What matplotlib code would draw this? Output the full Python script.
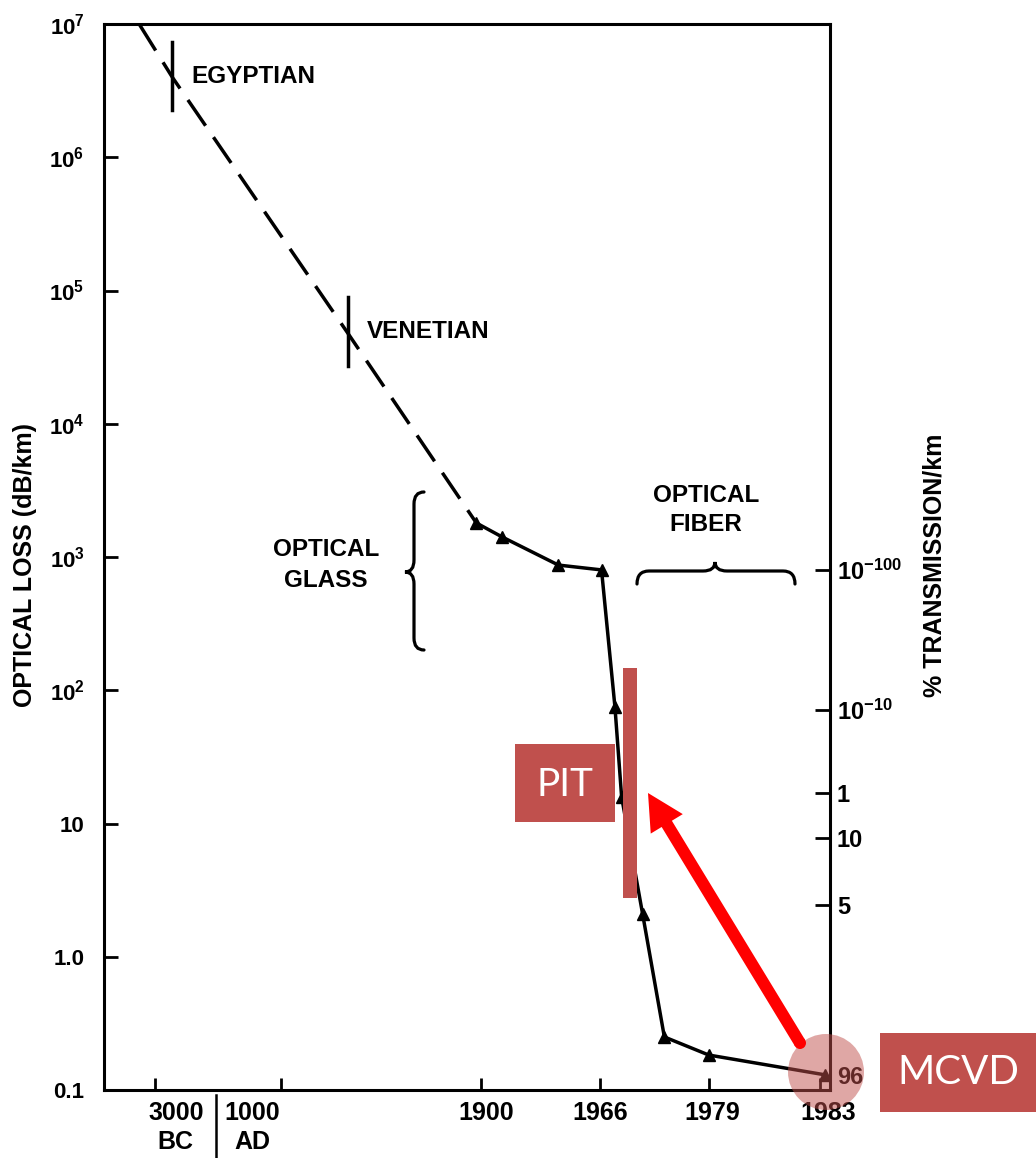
import numpy as np
import matplotlib
matplotlib.use('Agg')
import matplotlib.pyplot as plt
from matplotlib.path import Path
from matplotlib.patches import PathPatch, Rectangle, Ellipse, FancyArrowPatch
from matplotlib.lines import Line2D
from matplotlib.transforms import ScaledTranslation

plt.rcParams['font.family'] = ['Liberation Sans', 'DejaVu Sans']
plt.rcParams['font.weight'] = 'bold'
plt.rcParams['mathtext.fontset'] = 'custom'
plt.rcParams['mathtext.rm'] = 'Liberation Sans:bold'
plt.rcParams['mathtext.it'] = 'Liberation Sans:bold'
plt.rcParams['mathtext.bf'] = 'Liberation Sans:bold'
plt.rcParams['mathtext.default'] = 'rm'

W, H = 1036, 1158

# x axis: hand drawn, uneven time axis (negative year = BC)
tick_years = [-3000, 1000, 1900, 1966, 1979, 1983]
tick_labels = ['3000', '1000', '1900', '1966', '1979', '1983']
tick_frac = [0.070, 0.244, 0.519, 0.683, 0.833, 0.986]
x_edges = (-4620, 1983.4)

# early glass, extrapolated (dashed)
early_years = [-3500, -2450, 1300, 1880]
early_loss = [1e7, 4.0e6, 4.8e4, 1800]

# measured points (solid, triangles)
fiber_years = [1880, 1912, 1943, 1966.2, 1967.8, 1968.6, 1971.1, 1973.7, 1979, 1983.2]
fiber_loss = [1800, 1410, 870, 800, 75, 15.8, 2.1, 0.25, 0.183, 0.13]

# historical glass marks
mark_years = [-2450, 1300]
mark_lo = [2.27e6, 2.7e4]
mark_hi = [7.3e6, 9.0e4]
mark_names = ['EGYPTIAN', 'VENETIAN']

loss_ticks = [0.1, 1, 10, 1e2, 1e3, 1e4, 1e5, 1e6, 1e7]
loss_labels = ['0.1', '1.0', '10', r'$10^2$', r'$10^3$', r'$10^4$',
               r'$10^5$', r'$10^6$', r'$10^7$']

# right scale, % transmission/km, at the loss where it sits on the drawing
trans_loss = [800, 71, 16.9, 7.8, 2.44, 0.13]
trans_labels = [r'$10^{-100}$', r'$10^{-10}$', '1', '10', '5', '96']


def px(x, y):
    return x / W, 1 - y / H


fig = plt.figure(figsize=(W / 100, H / 100), dpi=100)
ax = fig.add_axes([104 / W, 1 - 1090 / H, 726 / W, 1066 / H])

anchor_years = [x_edges[0]] + tick_years + [x_edges[1]]
anchor_frac = [0.0] + tick_frac + [1.0]


def fwd(x):
    return np.interp(x, anchor_years, anchor_frac)


def inv(f):
    return np.interp(f, anchor_frac, anchor_years)


ax.set_xscale('function', functions=(fwd, inv))
ax.set_yscale('log')
ax.set_xlim(*x_edges)
ax.set_ylim(0.1, 1e7)

ax.plot(early_years, early_loss, color='black', lw=2.5, dashes=(9, 4))
ax.plot(fiber_years, fiber_loss, color='black', lw=2.5, marker='^', ms=9)
for yr, lo, hi, name in zip(mark_years, mark_lo, mark_hi, mark_names):
    ax.plot([yr, yr], [lo, hi], color='black', lw=2.5)
    ax.annotate(name, (yr, np.sqrt(lo * hi)), xytext=(14, 0),
                textcoords='offset points', va='center', ha='left', fontsize=17.5)

for s in ax.spines.values():
    s.set_linewidth(2.2)

ax.set_yticks(loss_ticks)
ax.set_yticklabels(loss_labels)
ax.minorticks_off()
ax.tick_params(axis='y', which='both', direction='in', length=10, width=2,
               labelsize=16, pad=14, right=False)
ax.set_xticks(tick_years)
ax.set_xticklabels(tick_labels)
ax.tick_params(axis='x', direction='in', length=9, width=2, labelsize=18, pad=8,
               top=False)
for lbl, dx in zip(ax.get_xticklabels(), [21, -29, 5, 0, 3, 8]):
    lbl.set_transform(lbl.get_transform() + ScaledTranslation(dx / 100, 0, fig.dpi_scale_trans))

ax2 = ax.twinx()
ax2.set_yscale('log')
ax2.set_ylim(0.1, 1e7)
ax2.set_yticks(trans_loss)
ax2.set_yticklabels(trans_labels)
ax2.minorticks_off()
ax2.tick_params(axis='y', direction='in', length=11, width=2, labelsize=17, pad=5)
ax2.yaxis.get_major_ticks()[-1].tick2line.set_visible(False)
for s in ax2.spines.values():
    s.set_visible(False)

fig.text(*px(25, 565), 'OPTICAL LOSS (dB/km)', rotation=90, ha='center', va='center', fontsize=18)
fig.text(*px(935, 565), '% TRANSMISSION/km', rotation=90, ha='center', va='center', fontsize=18)
fig.text(*px(326, 565), 'OPTICAL\nGLASS', ha='center', va='center', fontsize=17.5, linespacing=1.45)
fig.text(*px(706, 510), 'OPTICAL\nFIBER', ha='center', va='center', fontsize=17.5, linespacing=1.3)
fig.text(*px(175, 1142), 'BC', ha='center', va='center', fontsize=18)
fig.text(*px(252, 1142), 'AD', ha='center', va='center', fontsize=18)
fig.add_artist(Line2D([216 / W, 216 / W], [1 - 1095 / H, 0], color='black', lw=1.8))


def brace(p0, p1, tip, depth, r):
    # curly brace from p0 to p1 (pixels), pointing to tip
    p0, p1, tip = np.array(p0, float), np.array(p1, float), np.array(tip, float)
    u = (p1 - p0) / np.linalg.norm(p1 - p0)
    n = tip - (p0 + np.dot(tip - p0, u) * u)
    n = n / np.linalg.norm(n)
    a = p0 + n * depth
    b = p1 + n * depth
    m = p0 + np.dot(tip - p0, u) * u + n * depth
    verts = [p0, a, a + u * r, m - u * r, m, tip, m, m + u * r, b - u * r, b, p1]
    codes = [Path.MOVETO, Path.CURVE3, Path.CURVE3, Path.LINETO, Path.CURVE3, Path.CURVE3,
             Path.CURVE3, Path.CURVE3, Path.LINETO, Path.CURVE3, Path.CURVE3]
    verts = [px(*v) for v in verts]
    return PathPatch(Path(verts, codes), transform=fig.transFigure, fill=False,
                     lw=2.3, edgecolor='black', capstyle='round')


fig.add_artist(brace((424, 492), (424, 650), (405, 572), 10, 12))
fig.add_artist(brace((637, 584), (795, 584), (715, 562), 13, 12))

# presentation overlays
red = '#C0504D'
fig.add_artist(Rectangle(px(515, 822), 100 / W, 78 / H, transform=fig.transFigure,
                         facecolor=red, edgecolor='none'))
fig.text(*px(565, 785), 'PIT', ha='center', va='center', color='white', fontsize=28,
         family='Lato', weight='normal')
fig.add_artist(Rectangle(px(623, 898), 14 / W, 230 / H, transform=fig.transFigure,
                         facecolor=red, edgecolor='none'))
fig.add_artist(Rectangle(px(880, 1112), 156 / W, 79 / H, transform=fig.transFigure,
                         facecolor=red, edgecolor='none'))
fig.text(*px(958, 1073), 'MCVD', ha='center', va='center', color='white', fontsize=29,
         family='Lato', weight='normal')
fig.add_artist(Ellipse(px(826, 1072), 76 / W, 76 / H, transform=fig.transFigure,
                       facecolor=red, alpha=0.5, edgecolor='none'))
fig.add_artist(FancyArrowPatch(px(800, 1043), px(648, 793), transform=fig.transFigure,
                               arrowstyle='simple,head_length=26,head_width=27,tail_width=8.6',
                               mutation_scale=1, shrinkA=0, shrinkB=0,
                               facecolor='#FF0000', edgecolor='none'))
fig.add_artist(Ellipse(px(800, 1043), 12 / W, 12 / H, transform=fig.transFigure,
                       facecolor='#FF0000', edgecolor='none'))

fig.savefig('out.png', dpi=100)
